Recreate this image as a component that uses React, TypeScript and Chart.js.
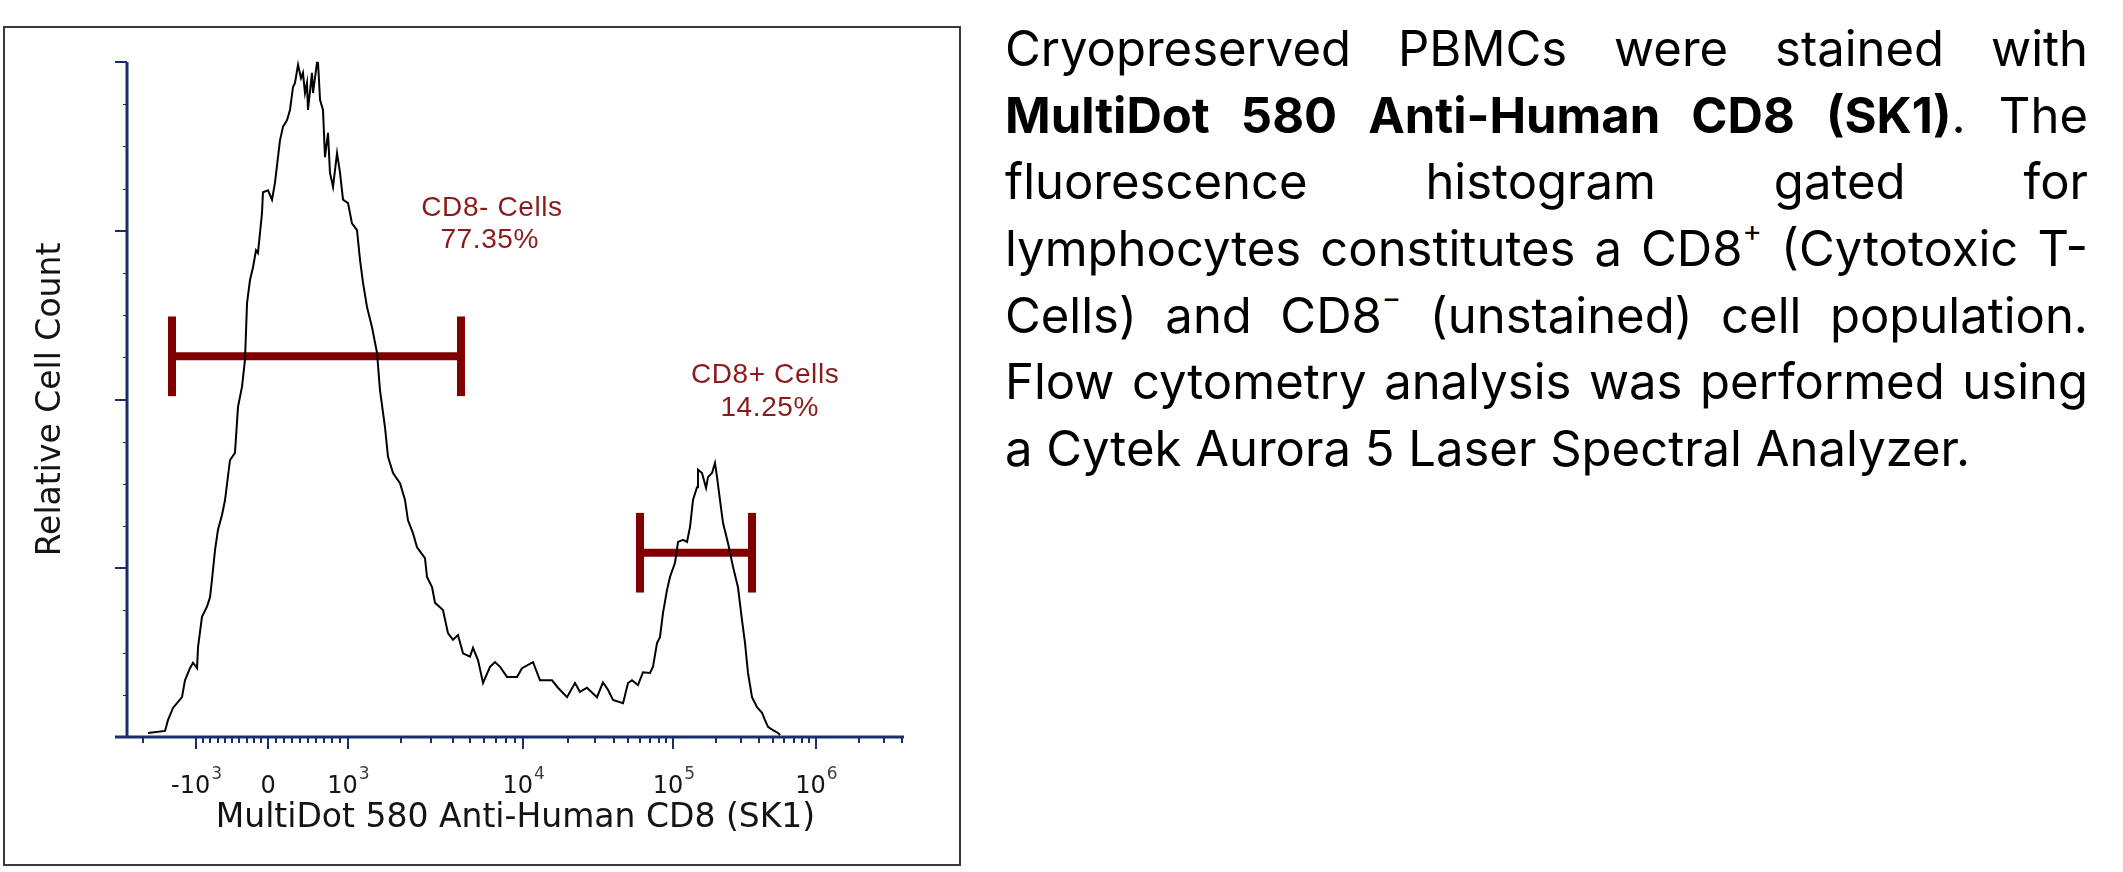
import React, { useEffect, useRef } from "react";
import { Chart, registerables } from "chart.js";
Chart.register(...registerables);

// Histogram trace: x in display channels (0-1024, logicle-type scale), y in relative count (% of max)
const CURVE_CHANNEL = [
  27.7, 50.1, 54.0, 60.6, 72.5, 76.4, 83.0, 87.0, 92.3, 93.6,
  98.8, 105.4, 109.4, 112.0, 116.0, 119.9, 125.2, 129.2, 135.7, 142.3,
  146.3, 151.6, 155.5, 158.2, 162.1, 166.1, 170.0, 172.6, 177.9, 179.2,
  185.8, 191.1, 195.0, 199.0, 201.6, 205.6, 210.9, 214.8, 218.8, 221.4,
  225.4, 229.3, 231.9, 234.6, 237.2, 238.5, 243.8, 245.1, 250.4, 251.7,
  254.4, 258.3, 260.9, 264.9, 267.5, 271.5, 276.8, 280.7, 284.7, 291.3,
  296.5, 303.1, 307.1, 311.0, 316.3, 322.9, 329.5, 333.4, 340.0, 344.0,
  350.6, 359.8, 366.4, 370.3, 376.9, 382.2, 392.7, 395.4, 402.0, 405.9,
  416.4, 423.0, 429.6, 436.2, 442.8, 452.0, 456.0, 462.6, 469.2, 478.4,
  485.0, 491.6, 500.8, 514.0, 520.6, 535.1, 544.3, 560.1, 568.0, 579.9,
  590.4, 597.0, 606.2, 619.4, 627.3, 633.9, 640.5, 653.7, 660.3, 665.5,
  673.4, 680.0, 689.3, 693.2, 698.5, 702.4, 706.4, 711.7, 715.6, 722.2,
  726.2, 732.8, 738.0, 742.0, 745.9, 751.2, 752.5, 757.8, 763.1, 765.7,
  771.0, 774.9, 777.6, 781.5, 785.5, 792.1, 798.7, 805.2, 810.5, 814.5,
  818.4, 823.7, 830.3, 836.9, 840.8, 844.8, 851.4, 857.9, 860.6,
];
const CURVE_COUNT = [
  0.6, 0.9, 2.5, 4.3, 5.9, 8.4, 10.2, 11.0, 10.2, 13.3,
  17.8, 19.3, 20.7, 23.3, 27.7, 30.7, 32.9, 35.1, 41.0, 42.1,
  48.9, 51.9, 55.9, 64.3, 67.7, 69.6, 72.1, 71.7, 77.6, 80.7,
  81.0, 79.6, 82.1, 85.9, 88.4, 90.4, 91.4, 92.9, 96.3, 96.9,
  99.6, 97.6, 98.4, 95.4, 96.9, 92.9, 98.4, 95.4, 99.9, 100,
  94.4, 92.9, 85.9, 89.5, 83.6, 81.5, 86.5, 83.6, 79.6, 79.1,
  76.1, 75.1, 70.7, 67.3, 63.7, 60.7, 56.9, 51.4, 45.9, 41.5,
  39.1, 37.6, 35.1, 32.1, 30.2, 28.1, 26.5, 23.7, 22.2, 19.9,
  18.8, 15.4, 14.4, 15.1, 12.4, 11.9, 13.2, 11.4, 8.0, 10.4,
  11.1, 10.4, 8.9, 8.9, 10.2, 11.1, 8.4, 8.4, 7.3, 5.9,
  8.0, 6.7, 7.3, 5.9, 8.1, 7.0, 5.5, 5.0, 8.0, 8.4,
  7.7, 9.6, 9.5, 10.4, 13.9, 14.8, 18.4, 21.8, 23.7, 25.8,
  28.9, 29.2, 28.9, 31.1, 35.1, 37.0, 39.6, 39.1, 36.9, 38.5,
  39.1, 40.6, 38.5, 35.1, 31.7, 28.7, 25.2, 22.2, 17.3, 13.9,
  9.5, 5.9, 4.4, 3.6, 2.5, 1.5, 1.0, 0.6, 0.3,
];

// Axis decades of the x scale (display channel of each labelled value)
const DECADE_CHANNELS = [91, 186, 291, 522, 720, 908];
const DECADE_BASE = ["-10", "0", "10", "10", "10", "10"];
const DECADE_EXP = ["3", "", "3", "4", "5", "6"];

// Y ticks (relative count), majors every 25
const Y_TICKS = [0, 6.25, 12.5, 18.75, 25, 31.25, 37.5, 43.75, 50, 56.25, 62.5, 68.75, 75, 81.25, 87.5, 93.75, 100];
const Y_MAJOR = [0, 25, 50, 75, 100];

// Gates
const GATE_NAMES = ["CD8- Cells", "CD8+ Cells"];
const GATE_PERCENTS = ["77.35%", "14.25%"];
const GATE_FROM = [59.3, 676.1];
const GATE_TO = [440.2, 823.7];
const GATE_LEVEL = [56.4, 27.3];

const X_TITLE = "MultiDot 580 Anti-Human CD8 (SK1)";
const Y_TITLE = "Relative Cell Count";

const AXIS_COLOR = "#1b2d6b";
const GATE_COLOR = "#800000";
const GATE_TEXT = "#8b1a1a";

function buildMinorTicks(): number[] {
  const [cNeg, cZero, cOne, c4, c5, c6] = DECADE_CHANNELS;
  const out: number[] = [];
  out.push(cNeg - Math.log10(2) * (c4 - cOne));
  for (let k = 1; k <= 9; k++) out.push(cNeg + ((cZero - cNeg) * k) / 10);
  for (let k = 1; k <= 9; k++) out.push(cZero + ((cOne - cZero) * k) / 10);
  const pairs = [[cOne, c4], [c4, c5], [c5, c6]];
  for (const [a, b] of pairs) {
    for (let k = 2; k <= 9; k++) out.push(a + Math.log10(k) * (b - a));
  }
  for (let k = 2; k <= 4; k++) out.push(c6 + Math.log10(k) * (c6 - c5));
  return out;
}

const framePlugin: any = {
  id: "framePlugin",
  beforeDraw(chart: any) {
    const ctx = chart.ctx;
    ctx.save();
    ctx.fillStyle = "#ffffff";
    ctx.fillRect(0, 0, chart.width, chart.height);
    ctx.strokeStyle = "#3a3a3a";
    ctx.lineWidth = 2;
    ctx.strokeRect(4, 27, 956, 838);
    ctx.restore();
  },
  beforeDatasetsDraw(chart: any) {
    const { ctx, chartArea, scales } = chart;
    const { left, right, top, bottom } = chartArea;
    const x = scales.x;
    const y = scales.y;
    ctx.save();
    ctx.strokeStyle = AXIS_COLOR;
    ctx.lineCap = "butt";
    // y ticks
    for (const v of Y_TICKS) {
      const major = Y_MAJOR.includes(v);
      const py = Math.round(y.getPixelForValue(v)) + (major ? 0 : 0.5);
      const len = major ? 12 : 4;
      ctx.lineWidth = major ? 2 : 1;
      ctx.beginPath();
      ctx.moveTo(left - len, py);
      ctx.lineTo(left, py);
      ctx.stroke();
    }
    // x ticks
    ctx.lineWidth = 2;
    for (const c of buildMinorTicks()) {
      const px = Math.round(x.getPixelForValue(c));
      ctx.beginPath();
      ctx.moveTo(px, bottom);
      ctx.lineTo(px, bottom + 6);
      ctx.stroke();
    }
    for (const c of DECADE_CHANNELS) {
      const px = Math.round(x.getPixelForValue(c));
      ctx.beginPath();
      ctx.moveTo(px, bottom);
      ctx.lineTo(px, bottom + 12);
      ctx.stroke();
    }
    // axis lines
    ctx.lineWidth = 3;
    ctx.beginPath();
    ctx.moveTo(left, top);
    ctx.lineTo(left, bottom);
    ctx.stroke();
    ctx.beginPath();
    ctx.moveTo(left - 12, bottom);
    ctx.lineTo(right, bottom);
    ctx.stroke();

    // tick labels
    ctx.textBaseline = "alphabetic";
    ctx.textAlign = "left";
    const baseFont = "24px 'DejaVu Sans'";
    const expFont = "17px 'DejaVu Sans'";
    DECADE_CHANNELS.forEach((c, i) => {
      const px = x.getPixelForValue(c);
      ctx.font = baseFont;
      const wb = ctx.measureText(DECADE_BASE[i]).width;
      ctx.font = expFont;
      const we = DECADE_EXP[i] ? ctx.measureText(DECADE_EXP[i]).width : 0;
      const start = px - (wb + we) / 2;
      ctx.fillStyle = "#1a1016";
      ctx.font = baseFont;
      ctx.fillText(DECADE_BASE[i], start, bottom + 56);
      if (DECADE_EXP[i]) {
        ctx.fillStyle = "#3a3a4a";
        ctx.font = expFont;
        ctx.fillText(DECADE_EXP[i], start + wb + 1, bottom + 42);
      }
    });

    // axis titles
    ctx.fillStyle = "#141414";
    ctx.font = "33px 'DejaVu Sans'";
    ctx.textAlign = "center";
    ctx.fillText(X_TITLE, (left + right) / 2, bottom + 90);
    ctx.save();
    ctx.translate(60, (top + bottom) / 2);
    ctx.rotate(-Math.PI / 2);
    ctx.fillText(Y_TITLE, 0, 0);
    ctx.restore();
    ctx.restore();
  },
  afterDatasetsDraw(chart: any) {
    const { ctx, scales } = chart;
    const x = scales.x;
    const y = scales.y;
    const labelPos = [
      { x1: 481, x2: 478, y1: 77.2, y2: 72.4 },
      { x1: 841, x2: 847, y1: 52.4, y2: 47.6 },
    ];
    ctx.save();
    ctx.fillStyle = GATE_TEXT;
    ctx.font = "28px 'Liberation Sans'";
    try { ctx.letterSpacing = "0.6px"; } catch (e) {}
    ctx.textAlign = "center";
    ctx.textBaseline = "alphabetic";
    GATE_NAMES.forEach((name, i) => {
      const p = labelPos[i];
      ctx.fillText(name, x.getPixelForValue(p.x1), y.getPixelForValue(p.y1));
      ctx.fillText(GATE_PERCENTS[i], x.getPixelForValue(p.x2), y.getPixelForValue(p.y2));
    });
    ctx.restore();
  },
};

const GATE_CAP = 5.9;

function makeDatasets(): any[] {
  const ds: any[] = [
    {
      label: "histogram",
      data: CURVE_CHANNEL.map((c, i) => ({ x: c, y: CURVE_COUNT[i] })),
      showLine: true,
      borderColor: "#000000",
      borderWidth: 2,
      pointRadius: 0,
      tension: 0,
      clip: false,
    },
  ];
  GATE_NAMES.forEach((_, i) => {
    const base = { showLine: true, borderColor: GATE_COLOR, pointRadius: 0, tension: 0, clip: false, borderCapStyle: "butt" };
    ds.push({
      ...base,
      label: GATE_NAMES[i] + " bar",
      borderWidth: 8,
      data: [
        { x: GATE_FROM[i], y: GATE_LEVEL[i] },
        { x: GATE_TO[i], y: GATE_LEVEL[i] },
      ],
    });
    ds.push({
      ...base,
      label: GATE_NAMES[i] + " left",
      borderWidth: 8,
      data: [
        { x: GATE_FROM[i], y: GATE_LEVEL[i] - GATE_CAP },
        { x: GATE_FROM[i], y: GATE_LEVEL[i] + GATE_CAP },
      ],
    });
    ds.push({
      ...base,
      label: GATE_NAMES[i] + " right",
      borderWidth: 8,
      data: [
        { x: GATE_TO[i], y: GATE_LEVEL[i] - GATE_CAP },
        { x: GATE_TO[i], y: GATE_LEVEL[i] + GATE_CAP },
      ],
    });
  });
  return ds;
}

type Seg = { t: string; b?: boolean; sup?: boolean };
const PARAGRAPH: Seg[][] = [
  [{ t: "Cryopreserved PBMCs were stained with" }],
  [{ t: "MultiDot 580 Anti-Human CD8 (SK1)", b: true }, { t: ". The" }],
  [{ t: "fluorescence histogram gated for" }],
  [{ t: "lymphocytes constitutes a CD8" }, { t: "+", sup: true }, { t: " (Cytotoxic T-" }],
  [{ t: "Cells) and CD8" }, { t: "\u2212", sup: true }, { t: " (unstained) cell population." }],
  [{ t: "Flow cytometry analysis was performed using" }],
  [{ t: "a Cytek Aurora 5 Laser Spectral Analyzer." }],
];

export default function App() {
  const ref = useRef<HTMLCanvasElement | null>(null);
  useEffect(() => {
    const canvas = ref.current;
    if (!canvas) return;
    const chart = new Chart(canvas, {
      type: "scatter",
      data: { datasets: makeDatasets() },
      options: {
        responsive: false,
        animation: false,
        layout: { padding: { left: 127, top: 62, right: 66, bottom: 135 } },
        scales: {
          x: { type: "linear", min: 0, max: 1024, display: false },
          y: { type: "linear", min: 0, max: 100, display: false },
        },
        plugins: { legend: { display: false }, tooltip: { enabled: false } },
        events: [],
      } as any,
      plugins: [framePlugin],
    });
    return () => chart.destroy();
  }, []);

  return (
    <div>
      <canvas
        ref={ref}
        width={970}
        height={872}
        style={{ position: "absolute", left: 0, top: 0, width: 970, height: 872 }}
      />
      <div
        style={{
          position: "absolute",
          left: 1005,
          top: 16,
          width: 1083,
          fontFamily: "Inter, 'Noto Sans', sans-serif",
          fontSize: 49,
          color: "#000",
        }}
      >
        {PARAGRAPH.map((line, li) => (
          <div
            key={li}
            style={{
              height: 66.7,
              lineHeight: "66.7px",
              whiteSpace: "nowrap",
              textAlign: li === PARAGRAPH.length - 1 ? "left" : "justify",
              textAlignLast: li === PARAGRAPH.length - 1 ? "left" : "justify",
            } as any}
          >
            {line.map((s, si) =>
              s.sup ? (
                <sup key={si} style={{ fontSize: "0.6em", lineHeight: 0, verticalAlign: "0.85em" }}>
                  {s.t}
                </sup>
              ) : s.b ? (
                <b key={si}>{s.t}</b>
              ) : (
                <span key={si}>{s.t}</span>
              )
            )}
          </div>
        ))}
      </div>
    </div>
  );
}
